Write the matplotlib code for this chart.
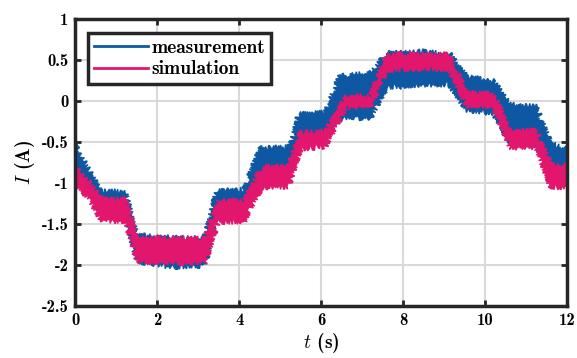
import numpy as np
import matplotlib
matplotlib.use('Agg')
from matplotlib import pyplot as plt

# envelope of the noisy traces (t in s, I in A)
t_sim = [0.0, 0.1, 0.35, 0.62, 1.0, 1.22, 1.5, 2.3, 3.15, 3.5, 4.12, 4.3,
         4.55, 5.2, 5.5, 6.1, 6.35, 6.62, 7.2, 7.6, 8.4, 9.12, 9.55, 10.2,
         10.6, 11.25, 11.6, 12.0]
sim_lo = [-1.00, -1.06, -1.20, -1.45, -1.47, -1.45, -1.95, -1.97, -1.97,
          -1.47, -1.47, -1.28, -1.05, -1.04, -0.58, -0.56, -0.31, -0.08,
          -0.07, 0.38, 0.39, 0.39, -0.06, -0.06, -0.56, -0.56, -1.05, -1.05]
sim_hi = [-0.80, -0.86, -1.00, -1.19, -1.20, -1.19, -1.68, -1.67, -1.68,
          -1.22, -1.22, -1.04, -0.81, -0.80, -0.39, -0.37, -0.16, 0.06,
          0.06, 0.57, 0.57, 0.56, 0.10, 0.09, -0.36, -0.36, -0.78, -0.78]

t_meas = [0.0, 0.1, 0.35, 0.62, 1.0, 1.22, 1.5, 2.3, 3.15, 3.45, 4.12, 4.3,
          4.5, 5.25, 5.45, 6.1, 6.45, 7.2, 7.6, 8.4, 9.12, 9.55, 10.2,
          10.6, 11.25, 11.6, 12.0]
meas_lo = [-0.90, -0.96, -1.10, -1.38, -1.40, -1.38, -1.95, -2.02, -2.01,
           -1.40, -1.38, -1.13, -0.88, -0.88, -0.44, -0.43, -0.22, -0.20,
           0.16, 0.20, 0.20, -0.11, -0.15, -0.50, -0.55, -0.84, -0.86]
meas_hi = [-0.52, -0.64, -0.86, -1.10, -1.10, -1.12, -1.64, -1.66, -1.68,
           -1.10, -1.08, -0.84, -0.58, -0.56, -0.16, -0.14, 0.30, 0.34,
           0.58, 0.60, 0.58, 0.30, 0.24, -0.04, -0.07, -0.52, -0.58]

x_ticks = [0, 2, 4, 6, 8, 10, 12]
y_ticks = [-2.5, -2, -1.5, -1, -0.5, 0, 0.5, 1]
y_ticklabels = ['-2.5', '-2', '-1.5', '-1', '-0.5', '0', '0.5', '1']

blue = '#0d57a3'
pink = '#e2166d'

plt.rcParams['font.family'] = 'cmb10'
plt.rcParams['mathtext.fontset'] = 'cm'
plt.rcParams['axes.unicode_minus'] = False

fig = plt.figure(figsize=(5.77, 3.58), dpi=100)
ax = fig.add_axes([0.1307, 0.145, 0.852, 0.802])


def band(t, lo, hi, col):
    # closed outline: upper edge forward, lower edge back
    xs = list(t) + list(t)[::-1]
    ys = list(hi) + list(lo)[::-1]
    poly, = ax.fill(xs, ys, color=col, lw=1.0, ec=col, clip_on=True)
    # jagged stroke so the edge reads as a noisy trace
    poly.set_sketch_params(scale=2.8, length=1.3, randomness=4.0)
    return poly


band(t_meas, meas_lo, meas_hi, blue)
band(t_sim, sim_lo, sim_hi, pink)

# legend proxies
ax.plot([], [], color=blue, lw=2, label='measurement')
ax.plot([], [], color=pink, lw=2, label='simulation')

ax.set_xlim(0, 12)
ax.set_ylim(-2.5, 1)
ax.set_xticks(x_ticks)
ax.set_yticks(y_ticks)
ax.set_yticklabels(y_ticklabels)
ax.grid(True, color='#d9d9d9', lw=1.5)
ax.set_axisbelow(True)
ax.tick_params(direction='in', length=4, width=2, top=True, right=True,
               labelsize=12, color='#262626', pad=5)
for s in ax.spines.values():
    s.set_linewidth(2.5)
    s.set_color('#262626')
    s.set_zorder(3)

ax.set_xlabel(r'$t$ (s)', fontsize=14, labelpad=2)
ax.set_ylabel(r'$I$ (A)', fontsize=14, labelpad=3)

leg = ax.legend(loc='upper left', bbox_to_anchor=(0.026, 0.951),
                borderaxespad=0, fontsize=14, handlelength=2.8,
                handletextpad=0.15, labelspacing=0.18, borderpad=0.3,
                fancybox=False, framealpha=1, edgecolor='#262626')
leg.get_frame().set_linewidth(2.5)

fig.savefig('out.png', dpi=100)
